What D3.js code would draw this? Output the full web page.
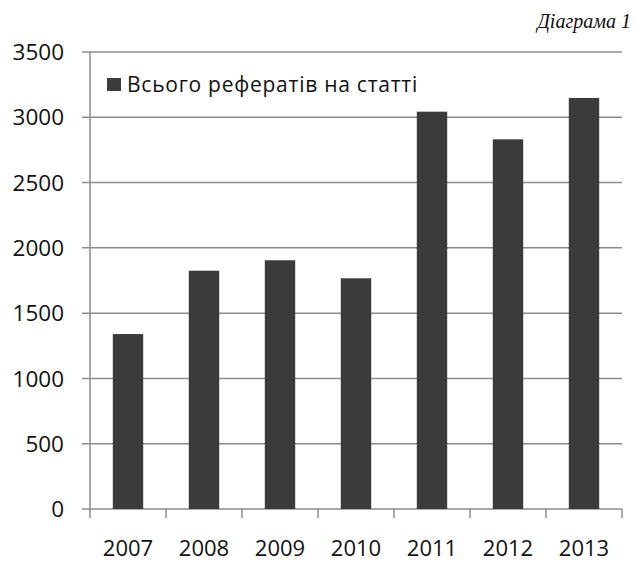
<!DOCTYPE html>
<html>
<head>
<meta charset="utf-8">
<script src="https://cdn.jsdelivr.net/npm/d3@7"></script>
<style>
  body { margin: 0; background: #fff; }
  svg { display: block; }
</style>
</head>
<body>
<svg id="canvas" width="634" height="563"></svg>
<script>
let years = ['2007', '2008', '2009', '2010', '2011', '2012', '2013']
let totals = [1340, 1825, 1905, 1767, 3043, 2831, 3148]
let yTicks = [0, 500, 1000, 1500, 2000, 2500, 3000, 3500]
let seriesName = 'Всього рефератів на статті'
let caption = 'Діаграма 1'

let canvas = d3.select('#canvas')

let plotLeft = 90, plotRight = 622, plotTop = 52, plotBottom = 509
let barColor = '#3b3b3b'
let lineColor = '#8c8c8c'

let x = d3.scaleBand()
    .domain(years)
    .range([plotLeft, plotRight])
    .paddingInner(0.6)
    .paddingOuter(0.3)

let y = d3.scaleLinear()
    .domain([0, 3500])
    .range([plotBottom, plotTop])

// gridlines + left ticks
canvas.selectAll('.grid')
    .data(yTicks)
    .enter()
    .append('line')
    .attr('class', 'grid')
    .attr('x1', plotLeft - 8)
    .attr('x2', plotRight)
    .attr('y1', (d) => y(d))
    .attr('y2', (d) => y(d))
    .attr('stroke', lineColor)
    .attr('stroke-width', 1.5)

canvas.selectAll('.ylabel')
    .data(yTicks)
    .enter()
    .append('text')
    .attr('class', 'ylabel')
    .attr('x', 64)
    .attr('y', (d) => y(d))
    .attr('dy', '0.36em')
    .attr('text-anchor', 'end')
    .style('font-family', '"Open Sans", sans-serif')
    .style('font-size', '22.5px')
    .attr('fill', '#111')
    .text((d) => d)

// y axis line
canvas.append('line')
    .attr('x1', plotLeft).attr('x2', plotLeft)
    .attr('y1', plotTop).attr('y2', plotBottom)
    .attr('stroke', lineColor)
    .attr('stroke-width', 1.5)

// bottom ticks at category boundaries
let step = x.step()
let edges = d3.range(years.length + 1).map((i) => plotLeft + i * step)
canvas.selectAll('.xtick')
    .data(edges)
    .enter()
    .append('line')
    .attr('class', 'xtick')
    .attr('x1', (d) => d).attr('x2', (d) => d)
    .attr('y1', plotBottom).attr('y2', plotBottom + 9)
    .attr('stroke', lineColor)
    .attr('stroke-width', 1.5)

canvas.selectAll('.xlabel')
    .data(years)
    .enter()
    .append('text')
    .attr('class', 'xlabel')
    .attr('x', (d) => x(d) + x.bandwidth() / 2)
    .attr('y', 556)
    .attr('text-anchor', 'middle')
    .style('font-family', '"Open Sans", sans-serif')
    .style('font-size', '22px')
    .attr('fill', '#111')
    .text((d) => d)

// bars
canvas.selectAll('rect.bar')
    .data(totals)
    .enter()
    .append('rect')
    .attr('class', 'bar')
    .attr('x', (d, i) => x(years[i]))
    .attr('y', (d) => y(d))
    .attr('width', x.bandwidth())
    .attr('height', (d) => plotBottom - y(d))
    .attr('fill', barColor)

// legend
canvas.append('rect')
    .attr('x', 107).attr('y', 78)
    .attr('width', 14).attr('height', 13)
    .attr('fill', barColor)

canvas.append('text')
    .attr('x', 127)
    .attr('y', 92)
    .style('font-family', '"Open Sans", sans-serif')
    .style('font-size', '21px')
    .style('letter-spacing', '0.75px')
    .attr('fill', '#111')
    .text(seriesName)

// caption
canvas.append('text')
    .attr('x', 631)
    .attr('y', 28)
    .attr('text-anchor', 'end')
    .style('font-family', '"Liberation Serif", serif')
    .style('font-style', 'italic')
    .style('font-size', '20px')
    .attr('fill', '#111')
    .text(caption)
</script>
</body>
</html>
